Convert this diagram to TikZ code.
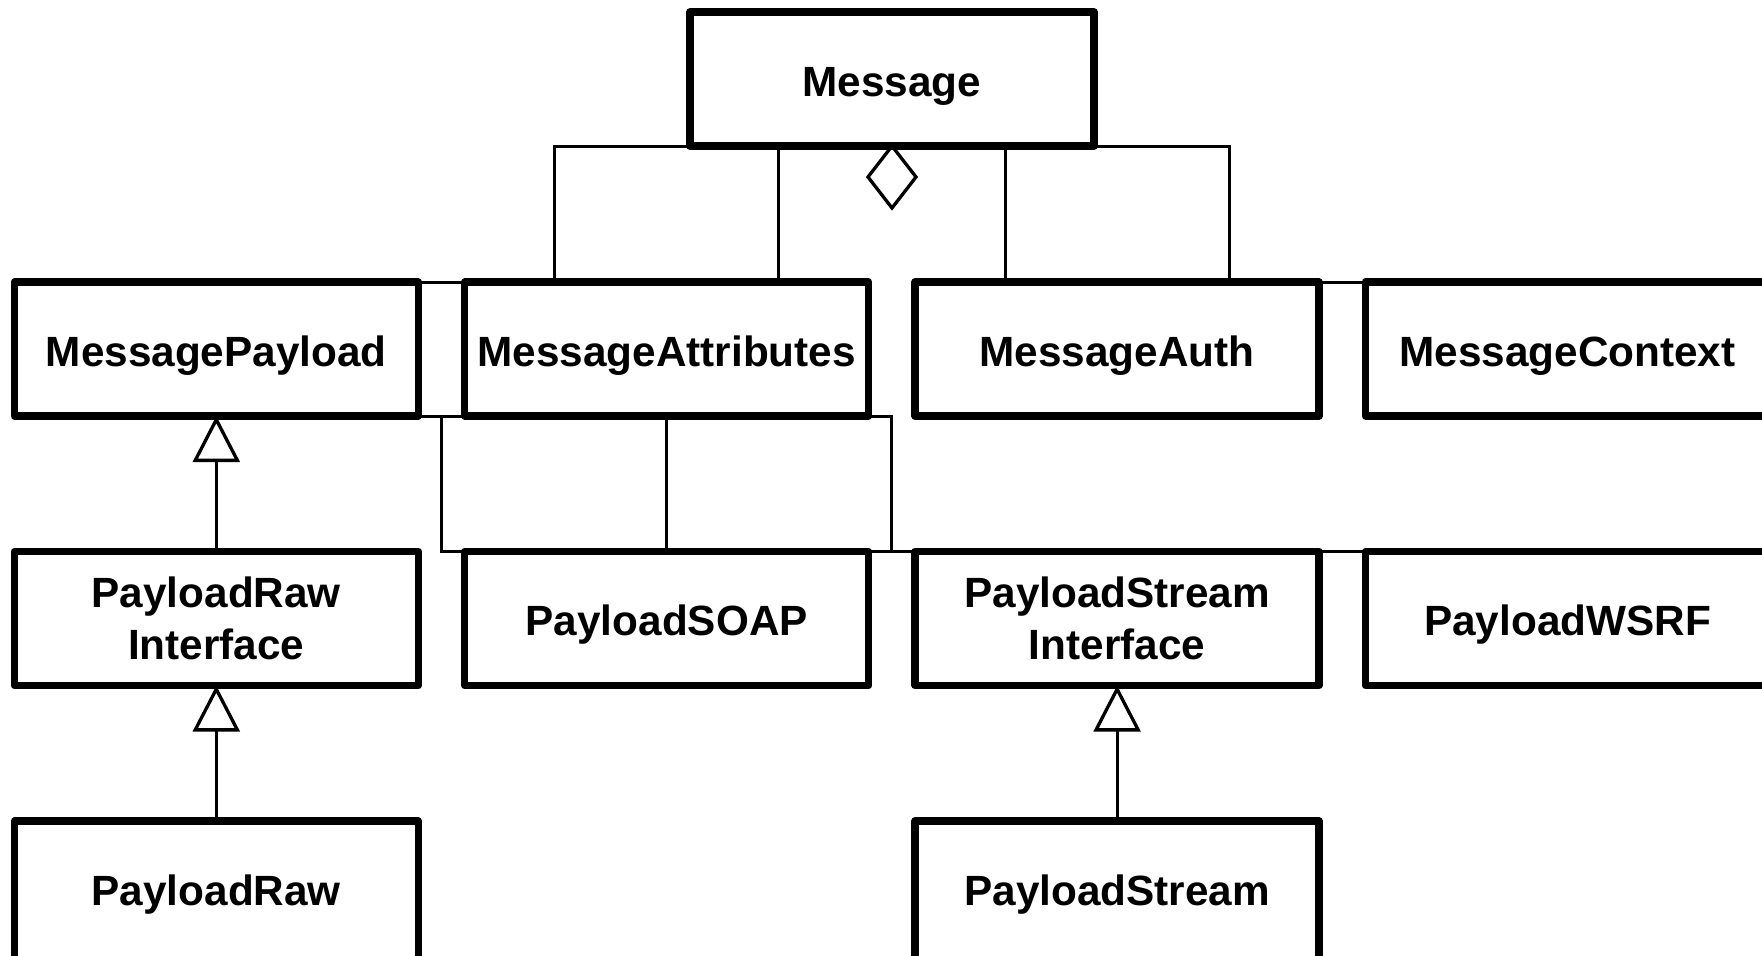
\documentclass[tikz,border=0pt]{standalone}
\usepackage{fontspec}
\setmainfont{Liberation Sans}
\usetikzlibrary{arrows.meta,calc}
\begin{document}
\begin{tikzpicture}[x=0.5pt,y=-0.5pt,
  box/.style={draw, line width=3.65pt, line join=round, minimum width=202pt, minimum height=67pt,
    inner sep=0pt, outer sep=0pt, font=\bfseries\fontsize{21.15pt}{25.9pt}\selectfont, align=center},
  oneline/.style={text height=17pt, text depth=0pt},
  boxline/.style={line width=3.65pt, line join=round},
  conn/.style={line width=1.5pt},
  gen/.style={conn, -{Triangle[open, length=23pt, width=23.35pt, line width=1.65pt]}},
]
\clip (0,0) rectangle (1762,955);
\fill[white] (0,0) rectangle (1762,955);

\node[box,oneline] (M) at (892,79) {Message};
\node[box,oneline] (MP) at (216.3,349) {MessagePayload};
\node[box,oneline] (MA) at (666.7,349) {MessageAttributes};
\node[box,oneline] (MAu) at (1117.1,349) {MessageAuth};
\node[box,oneline] (MC) at (1567.5,349) {MessageContext};
\node[box] (PRI) at (216.3,618.5) {PayloadRaw\\Interface};
\node[box,oneline] (PSOAP) at (666.7,618.5) {PayloadSOAP};
\node[box] (PSI) at (1117.1,618.5) {PayloadStream\\Interface};
\node[box,oneline] (PW) at (1567.5,618.5) {PayloadWSRF};
\node[box,oneline,draw=none] (PR) at (216.3,888) {PayloadRaw};
\node[box,oneline,draw=none] (PStr) at (1117.1,888) {PayloadStream};
\draw[boxline] ($(PR.south west)+(0,20)$) -- (PR.north west) -- (PR.north east) -- ($(PR.south east)+(0,20)$);
\draw[boxline] ($(PStr.south west)+(0,20)$) -- (PStr.north west) -- (PStr.north east) -- ($(PStr.south east)+(0,20)$);

% aggregation from Message
\coordinate (a1) at ($(MA.north west)+(89.3,0)$);
\coordinate (a2) at ($(MA.north east)+(-90.5,0)$);
\coordinate (a3) at ($(MAu.north west)+(90,0)$);
\coordinate (a4) at ($(MAu.north east)+(-89.5,0)$);
\draw[conn] (a1) |- (M.south) -| (a4);
\draw[conn] (a2) -- (a2 |- M.south);
\draw[conn] (a3) -- (a3 |- M.south);
\draw[line width=1.65pt, line join=miter] (M.south) -- ++(24,31) -- ++(-24,31) -- ++(-24,-31) -- cycle;

% thin links between neighbouring boxes
\draw[conn] (MP.north east) -- (MA.north west);
\draw[conn] (MAu.north east) -- (MC.north west);
\draw[conn] (PSI.north east) -- (PW.north west);
\draw[conn] (MP.south east) -- (MA.south west);
\coordinate (g1) at ($(MP.south east)!0.5!(MA.south west)$);
\draw[conn] (g1) |- (PSOAP.north west);
\coordinate (g2) at ($(MA.south east)!0.5!(MAu.south west)$);
\draw[conn] (MA.south east) -- (g2) -- (g2 |- PSI.north west);
\draw[conn] (PSOAP.north east) -- (PSI.north west);
\draw[conn] (MA.south) -- (PSOAP.north);

% generalizations
\draw[gen] (PRI.north) -- (MP.south);
\draw[gen] (PR.north) -- (PRI.south);
\draw[gen] (PStr.north) -- (PSI.south);
\end{tikzpicture}
\end{document}
